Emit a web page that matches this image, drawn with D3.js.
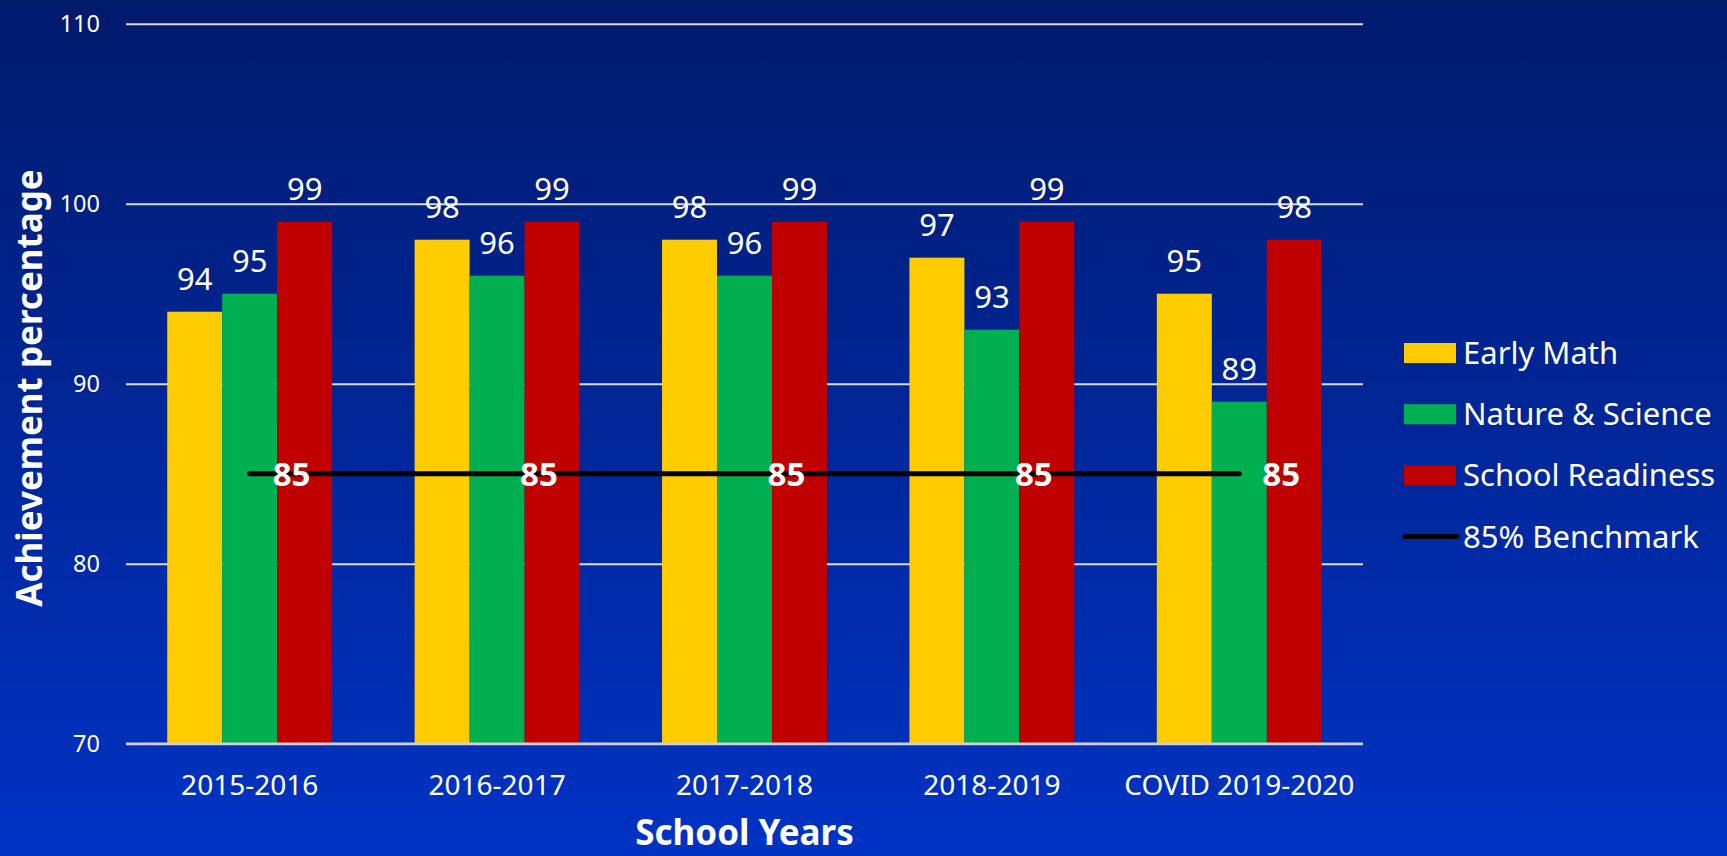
<!DOCTYPE html>
<html>
<head>
<meta charset="utf-8">
<script src="https://cdn.jsdelivr.net/npm/d3@7"></script>
<style>
  html, body { margin: 0; padding: 0; overflow: hidden; }
  svg { display: block; font-family: 'Noto Sans', sans-serif; }
</style>
</head>
<body>
<svg id="canvas" width="1727" height="856"></svg>
<script>
// chart data
let years = ['2015-2016', '2016-2017', '2017-2018', '2018-2019', 'COVID 2019-2020']
let seriesNames = ['Early Math', 'Nature & Science', 'School Readiness']
let earlyMath = [94, 98, 98, 97, 95]
let natureScience = [95, 96, 96, 93, 89]
let schoolReadiness = [99, 99, 99, 99, 98]
let benchmark = [85, 85, 85, 85, 85]
let benchmarkName = '85% Benchmark'
let yTicks = [70, 80, 90, 100, 110]
let colors = ['#FFCC00', '#00B050', '#C00000']

let seriesValues = [earlyMath, natureScience, schoolReadiness]

let width = 1727
let height = 856
let marginLeft = 126
let marginTop = 23.7
let plotW = 1237
let plotH = 720

let canvas = d3.select('#canvas')

// background gradient
let grad = canvas.append('defs').append('linearGradient')
    .attr('id', 'bg')
    .attr('x1', 0).attr('y1', 0).attr('x2', 0).attr('y2', 1)
grad.append('stop').attr('offset', '0%').attr('stop-color', '#001a6c')
grad.append('stop').attr('offset', '100%').attr('stop-color', '#0033c5')
canvas.append('rect').attr('width', width).attr('height', height).attr('fill', 'url(#bg)')

let g = canvas.append('g').attr('transform', 'translate(' + marginLeft + ',' + marginTop + ')')

let x0 = d3.scaleBand()
    .domain(years)
    .range([0, plotW])
    .paddingInner(1 / 3)
    .paddingOuter(1 / 6)
let x1 = d3.scaleBand()
    .domain(seriesNames)
    .range([0, x0.bandwidth()])
let y = d3.scaleLinear()
    .domain([70, 110])
    .range([plotH, 0])

// gridlines + y labels
let yAxis = g.append('g')
    .call(d3.axisLeft(y).tickValues(yTicks).tickSize(-plotW).tickPadding(26))
yAxis.select('.domain').remove()
yAxis.selectAll('line').attr('stroke', '#d9d9d9').attr('stroke-width', 2)
yAxis.selectAll('text')
    .attr('fill', '#ffffff')
    .attr('font-size', 23.5)
    .attr('font-family', 'Noto Sans')
    .attr('dy', '0.34em')

// bars
let rows = years.map((yr, i) => ({ year: yr, vals: seriesNames.map((s, j) => ({ name: s, idx: j, value: seriesValues[j][i] })) }))

let group = g.selectAll('.grp')
    .data(rows)
    .enter()
    .append('g')
    .attr('class', 'grp')
    .attr('transform', (d) => 'translate(' + x0(d.year) + ',0)')

group.selectAll('rect')
    .data((d) => d.vals)
    .enter()
    .append('rect')
    .attr('x', (d) => x1(d.name))
    .attr('y', (d) => y(d.value))
    .attr('width', x1.bandwidth())
    .attr('height', (d) => plotH - y(d.value))
    .attr('fill', (d) => colors[d.idx])

group.selectAll('.val')
    .data((d) => d.vals)
    .enter()
    .append('text')
    .attr('class', 'val')
    .attr('x', (d) => x1(d.name) + x1.bandwidth() / 2)
    .attr('y', (d) => y(d.value) - 22)
    .attr('text-anchor', 'middle')
    .attr('fill', '#ffffff')
    .attr('font-size', 31)
    .text((d) => d.value)

// x axis line drawn over the bars' bottom
g.append('line')
    .attr('x1', 0).attr('x2', plotW)
    .attr('y1', plotH).attr('y2', plotH)
    .attr('stroke', '#d0d0d0').attr('stroke-width', 2.5)

let xAxis = g.append('g')
    .attr('transform', 'translate(0,' + plotH + ')')
    .call(d3.axisBottom(x0).tickSize(0))
xAxis.select('.domain').remove()
xAxis.selectAll('text')
    .attr('y', 51)
    .attr('dy', 0)
    .attr('fill', '#ffffff')
    .attr('font-size', 28)
    .attr('font-family', 'Noto Sans')

// benchmark line
let line = d3.line()
    .x((d, i) => x0(years[i]) + x0.bandwidth() / 2)
    .y((d) => y(d))
g.append('path')
    .datum(benchmark)
    .attr('d', line)
    .attr('fill', 'none')
    .attr('stroke', '#000000')
    .attr('stroke-width', 5)
    .attr('stroke-linecap', 'round')

g.selectAll('.bench')
    .data(benchmark)
    .enter()
    .append('text')
    .attr('class', 'bench')
    .attr('x', (d, i) => x0(years[i]) + x0.bandwidth() / 2 + 23)
    .attr('y', (d) => y(d) + 12)
    .attr('fill', '#ffffff')
    .attr('font-size', 33)
    .attr('font-weight', 'bold')
    .text((d) => d)

// axis titles
canvas.append('text')
    .attr('transform', 'translate(42,388) rotate(-90)')
    .attr('text-anchor', 'middle')
    .attr('fill', '#ffffff')
    .attr('font-size', 35)
    .attr('font-weight', 'bold')
    .text('Achievement percentage')

canvas.append('text')
    .attr('x', marginLeft + plotW / 2)
    .attr('y', 845)
    .attr('text-anchor', 'middle')
    .attr('fill', '#ffffff')
    .attr('font-size', 35)
    .attr('font-weight', 'bold')
    .text('School Years')

// legend
let legend = canvas.append('g').attr('transform', 'translate(1404,353)')
let legendItems = seriesNames.concat([benchmarkName])
let item = legend.selectAll('g')
    .data(legendItems)
    .enter()
    .append('g')
    .attr('transform', (d, i) => 'translate(0,' + (i * 61.2) + ')')
item.each(function (d, i) {
    let el = d3.select(this)
    if (i < 3) {
        el.append('rect')
            .attr('x', 0).attr('y', -10)
            .attr('width', 52).attr('height', 20)
            .attr('fill', colors[i])
    } else {
        el.append('line')
            .attr('x1', 1).attr('x2', 53)
            .attr('y1', 0).attr('y2', 0)
            .attr('stroke', '#000000')
            .attr('stroke-width', 5)
            .attr('stroke-linecap', 'round')
    }
})
item.append('text')
    .attr('x', 59)
    .attr('y', 11)
    .attr('fill', '#ffffff')
    .attr('font-size', 31)
    .text((d) => d)
</script>
</body>
</html>
